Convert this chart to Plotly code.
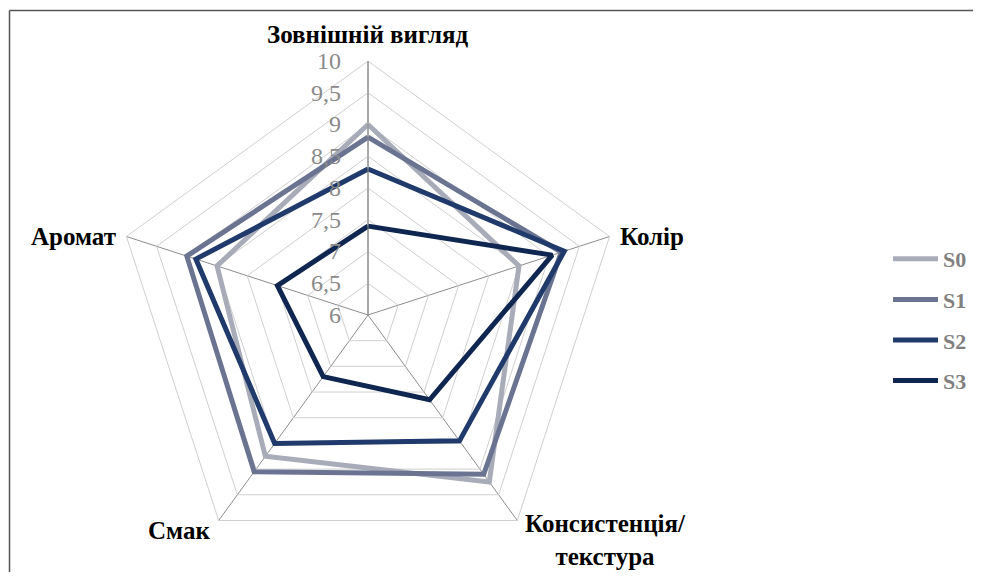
import math
import plotly.graph_objects as go

categories = ["Зовнішній вигляд", "Колір", "Консистенція/<br>текстура", "Смак", "Аромат"]
series_names = ["S0", "S1", "S2", "S3"]
s0 = [9.0, 8.5, 9.25, 8.75, 8.5]
s1 = [8.8, 9.2, 9.1, 9.05, 9.0]
s2 = [8.3, 9.25, 8.45, 8.5, 8.85]
s3 = [7.4, 9.05, 7.65, 7.2, 7.5]
tick_vals = [6, 6.5, 7, 7.5, 8, 8.5, 9, 9.5, 10]
tick_text = ["6", "6,5", "7", "7,5", "8", "8,5", "9", "9,5", "10"]

colors = ["#A8ABB8", "#6A7491", "#1F3A6B", "#0F2651"]
all_series = [s0, s1, s2, s3]

fig = go.Figure()
for i, (name, vals) in enumerate(zip(series_names, all_series)):
    fig.add_trace(go.Scatterpolar(
        r=vals + [vals[0]],
        theta=categories + [categories[0]],
        mode="lines",
        name=name,
        legendgroup=name,
        line=dict(color=colors[i], width=5),
    ))

# page body has an 8px margin, so the figure is kept 16px smaller than the window
W, H = 965, 564
cx, cy, R = 360, 307, 254

pad = "\u00a0" * 3
tick_text_padded = [t + pad for t in tick_text]

# category label placement (outside each spoke)
label_pos = [
    (cx, cy - R - 26, "center"),
    (cx + R * math.cos(math.radians(18)) + 8, cy - R * math.sin(math.radians(18)), "left"),
    (cx + R * math.cos(math.radians(-54)) + 88, cy - R * math.sin(math.radians(-54)) + 20, "center"),
    (cx + R * math.cos(math.radians(-126)) - 7, cy - R * math.sin(math.radians(-126)) + 10, "right"),
    (cx + R * math.cos(math.radians(162)) - 8, cy - R * math.sin(math.radians(162)), "right"),
]
annotations = []
for cat, (px, py, anc) in zip(categories, label_pos):
    annotations.append(dict(
        text=cat, x=px / W, y=1 - py / H, xref="paper", yref="paper",
        xanchor=anc, yanchor="middle", showarrow=False, align="center",
        font=dict(size=25, color="black", family="Liberation Serif, serif", weight="bold"),
    ))

fig.update_layout(
    width=W, height=H,
    margin=dict(l=0, r=0, t=0, b=0),
    paper_bgcolor="white",
    plot_bgcolor="white",
    font=dict(family="Liberation Serif, Times New Roman, serif"),
    polar=dict(
        domain=dict(x=[(cx - R) / W, (cx + R) / W], y=[(H - cy - R) / H, (H - cy + R) / H]),
        gridshape="linear",
        bgcolor="white",
        radialaxis=dict(
            range=[6, 10],
            tickvals=tick_vals,
            ticktext=tick_text_padded,
            angle=90,
            tickangle=90,
            side="counterclockwise",
            showline=True,
            linecolor="#8C8C8C",
            linewidth=1,
            gridcolor="#CFCFCF",
            gridwidth=1,
            ticks="",
            tickfont=dict(size=24, color="#8A8A8A", family="Liberation Serif, serif"),
        ),
        angularaxis=dict(
            rotation=90,
            direction="clockwise",
            showline=True,
            linecolor="#CFCFCF",
            linewidth=1,
            gridcolor="#8C8C8C",
            gridwidth=1,
            ticks="",
            showticklabels=False,
        ),
    ),
    legend=dict(
        x=880 / W, y=1 - 312 / H, xanchor="left", yanchor="middle",
        font=dict(size=22, color="#808080", family="Liberation Serif, serif", weight="bold"),
        tracegroupgap=9,
        itemwidth=45,
        bgcolor="rgba(0,0,0,0)",
    ),
    annotations=annotations,
    shapes=[
        dict(type="line", xref="paper", yref="paper", x0=1.5 / W, x1=1, y0=1 - 2.5 / H, y1=1 - 2.5 / H,
             line=dict(color="#555555", width=1.5)),
        dict(type="line", xref="paper", yref="paper", x0=1.5 / W, x1=1.5 / W, y0=0, y1=1 - 2.5 / H,
             line=dict(color="#555555", width=1.5)),
    ],
)

fig.write_html("out.html")
